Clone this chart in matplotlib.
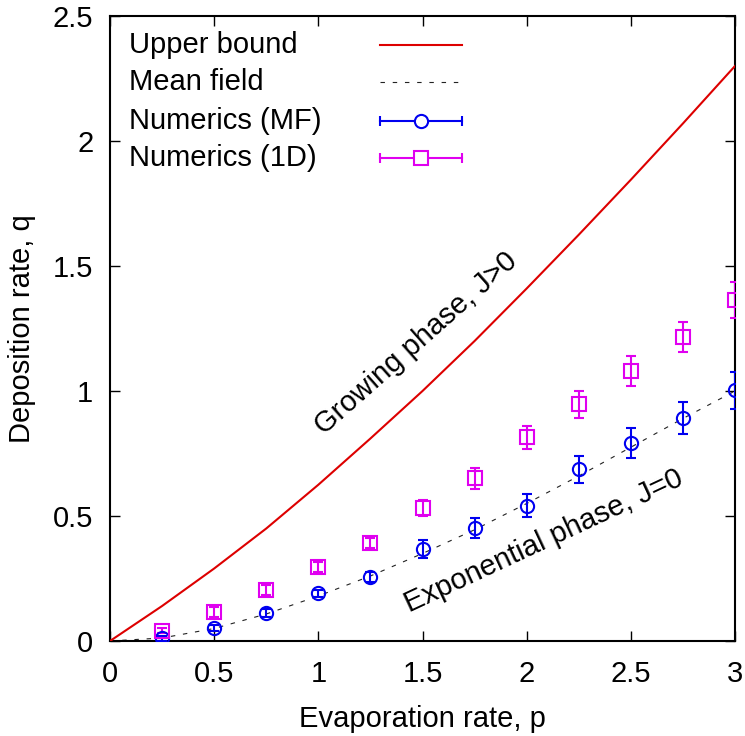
import matplotlib
matplotlib.use("Agg")
import matplotlib.pyplot as plt
from matplotlib.lines import Line2D

plt.rcParams['font.family'] = ['Liberation Sans', 'DejaVu Sans']

# ---- data ----
p_curve = [0, 0.25, 0.5, 0.75, 1.0, 1.25, 1.5, 1.75, 2.0, 2.25, 2.5, 2.75, 3.0]
q_upper = [0, 0.14, 0.29, 0.45, 0.625, 0.81, 1.0, 1.2, 1.41, 1.625, 1.845, 2.07, 2.30]
q_mean = [0, 0.012, 0.05, 0.108, 0.18, 0.26, 0.35, 0.445, 0.55, 0.66, 0.775, 0.89, 1.0]

p_num = [0.25, 0.5, 0.75, 1.0, 1.25, 1.5, 1.75, 2.0, 2.25, 2.5, 2.75, 3.0]
q_mf = [0.011, 0.053, 0.113, 0.191, 0.257, 0.368, 0.453, 0.541, 0.687, 0.791, 0.893, 1.003]
e_mf = [0.01, 0.012, 0.015, 0.015, 0.02, 0.035, 0.039, 0.046, 0.053, 0.06, 0.065, 0.074]
q_1d = [0.041, 0.115, 0.204, 0.297, 0.393, 0.533, 0.651, 0.815, 0.948, 1.081, 1.217, 1.364]
e_1d = [0.01, 0.02, 0.02, 0.02, 0.02, 0.033, 0.042, 0.047, 0.054, 0.06, 0.06, 0.072]

labels = ["Upper bound", "Mean field", "Numerics (MF)", "Numerics (1D)"]
xticks = [0, 0.5, 1, 1.5, 2, 2.5, 3]
yticks = [0, 0.5, 1, 1.5, 2, 2.5]

RED = '#dd0000'
BLUE = '#0000f0'
MAG = '#e000f0'
FS = 21

fig = plt.figure(figsize=(7.45, 7.36), dpi=100)
ax = fig.add_axes([110/745, 1-641/736, 625/745, 625/736])

ax.plot(p_curve, q_upper, color=RED, lw=1.5, zorder=3)
ax.plot(p_curve, q_mean, color='#222222', lw=0.8, dashes=(4, 7), zorder=2)
ax.errorbar(p_num, q_mf, yerr=e_mf, fmt='o', mfc='none', mec=BLUE, ms=9.5, mew=1.5,
            ecolor=BLUE, elinewidth=1.5, capsize=3.5, capthick=1.5, zorder=4)
ax.errorbar(p_num, q_1d, yerr=e_1d, fmt='s', mfc='none', mec=MAG, ms=10.5, mew=1.5,
            ecolor=MAG, elinewidth=1.5, capsize=3.5, capthick=1.5, zorder=4)

ax.set_xlim(0, 3)
ax.set_ylim(0, 2.5)
ax.set_xticks(xticks)
ax.set_xticklabels(['0', '0.5', '1', '1.5', '2', '2.5', '3'])
ax.set_yticks(yticks)
ax.set_yticklabels(['0', '0.5', '1', '1.5', '2', '2.5'])
ax.tick_params(direction='in', length=7, width=1.0, top=True, right=True,
               labelsize=FS, color='black')
ax.tick_params(axis='x', pad=14)
ax.tick_params(axis='y', pad=12)
for s in ax.spines.values():
    s.set_linewidth(1.5)

ax.set_xlabel("Evaporation rate, p", fontsize=FS, labelpad=12)
ax.set_ylabel("Deposition rate, q", fontsize=FS, labelpad=12)

ax.text(1.47, 1.19, "Growing phase, J>0", rotation=41.5, ha='center', va='center',
        rotation_mode='anchor', fontsize=FS)
ax.text(2.08, 0.40, "Exponential phase, J=0", rotation=25, ha='center', va='center',
        rotation_mode='anchor', fontsize=FS)

# ---- manual gnuplot-style key ----
tx = 0.0304
x1, x2, xm = 0.432, 0.563, 0.4976
rows = [0.9536, 0.8949, 0.8325, 0.7723]
T = ax.transAxes
for lab, y in zip(labels, rows):
    ax.text(tx, y, lab, transform=T, ha='left', va='center', fontsize=FS)
ax.add_line(Line2D([x1, x2], [rows[0]]*2, transform=T, color=RED, lw=1.5))
ax.add_line(Line2D([x1, x2], [rows[1]]*2, transform=T, color='#222222', lw=0.8, dashes=(4, 7)))
for y, c, m, ms in [(rows[2], BLUE, 'o', 9.5), (rows[3], MAG, 's', 10.5)]:
    ax.add_line(Line2D([x1, x2], [y, y], transform=T, color=c, lw=1.5))
    ax.add_line(Line2D([x1, x2], [y, y], transform=T, ls='none', marker='|', ms=7,
                       mew=1.5, color=c))
    ax.add_line(Line2D([xm], [y], transform=T, ls='none', marker=m, ms=ms, mew=1.5,
                       mfc='white', mec=c))

fig.savefig("out.png", dpi=100)
